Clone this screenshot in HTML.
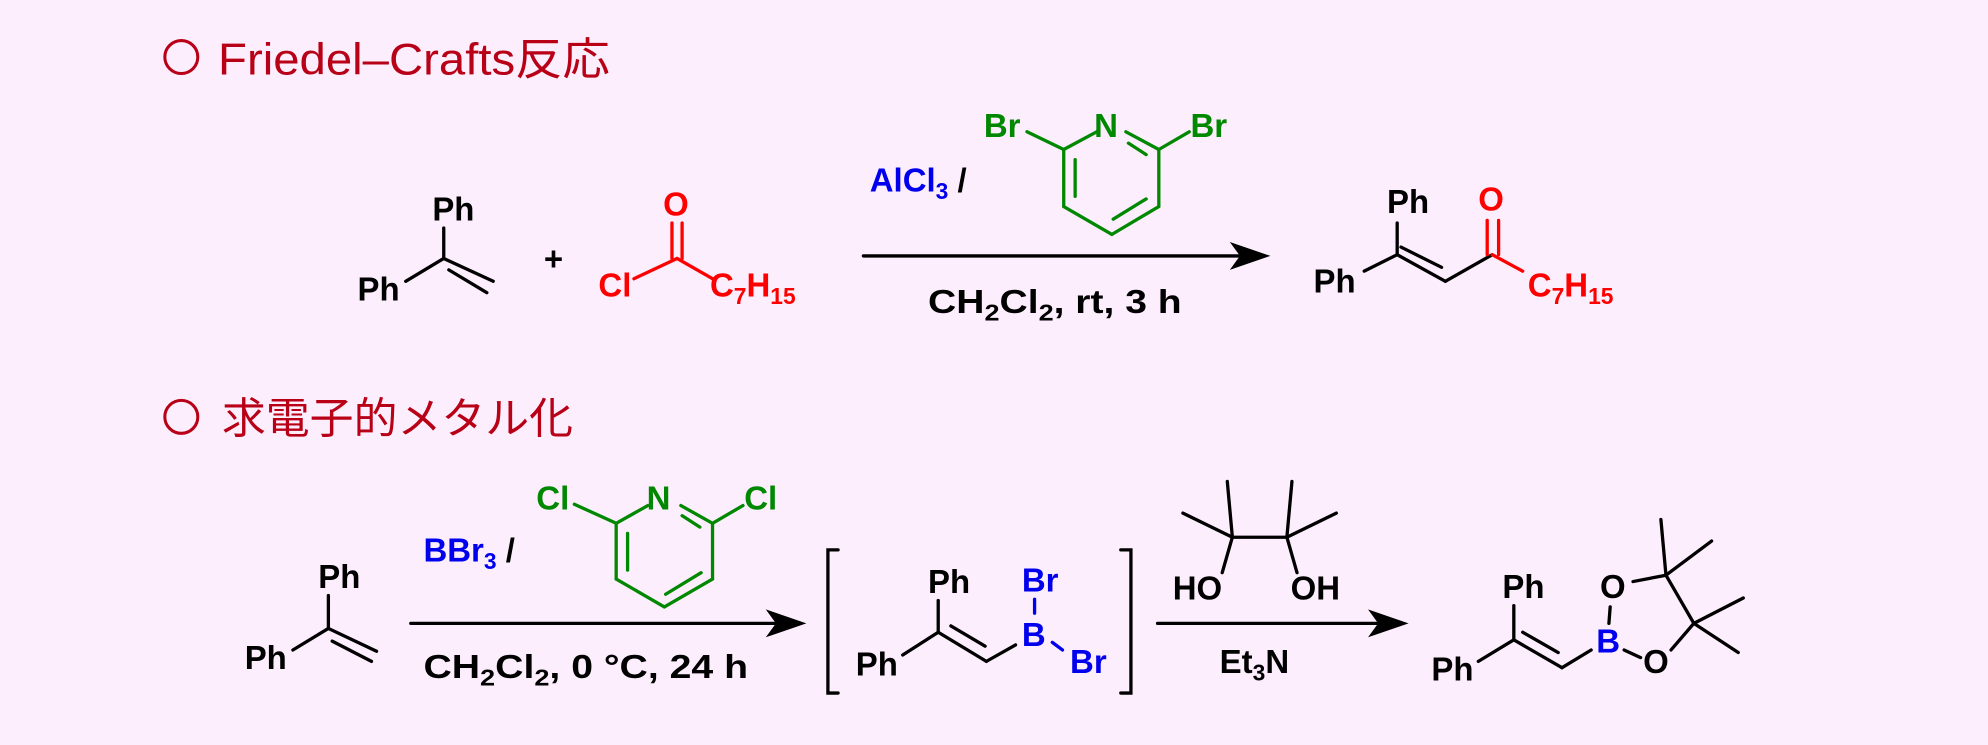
<!DOCTYPE html>
<html><head><meta charset="utf-8"><style>
html,body{margin:0;padding:0;background:#fdeefd;}
svg{display:block}
text{font-family:"Liberation Sans","Noto Sans CJK JP",sans-serif;}
.b{font-weight:bold;font-size:26px;}
</style></head><body>
<svg width="1988" height="745" viewBox="0 0 1568 588" preserveAspectRatio="none" xmlns="http://www.w3.org/2000/svg">
<rect width="1568" height="588" fill="#fdeefd"/>
<!-- titles -->
<g fill="none" stroke="#b80016" stroke-width="2.4"><circle cx="143" cy="45" r="13"/><circle cx="143" cy="329" r="13"/></g>
<text x="172" y="59" font-size="35" fill="#b80016" textLength="309" lengthAdjust="spacingAndGlyphs">Friedel–Crafts反応</text>
<text x="175" y="342" font-size="34" fill="#b80016" textLength="277" lengthAdjust="spacingAndGlyphs">求電子的メタル化</text>

<g stroke="#000" stroke-width="2.6" fill="none" stroke-linecap="round">
<!-- row1 reactant1 -->
<line x1="350" y1="180" x2="350" y2="204"/><line x1="320" y1="222" x2="350" y2="204"/>
<line x1="350" y1="204" x2="389" y2="222"/><line x1="354" y1="213" x2="384" y2="231"/>
<!-- arrow1 -->
<line x1="681" y1="202" x2="985" y2="202"/>
<!-- product1 -->
<line x1="1102" y1="176" x2="1102" y2="201"/><line x1="1076" y1="214" x2="1102" y2="201"/>
<line x1="1102" y1="201" x2="1140" y2="222"/><line x1="1105" y1="195" x2="1137" y2="211"/>
<line x1="1140" y1="222" x2="1177" y2="201"/>
<!-- row2 reactant -->
<line x1="259" y1="470" x2="259" y2="496"/><line x1="231" y1="513" x2="259" y2="496"/>
<line x1="259" y1="496" x2="297" y2="514"/><line x1="262" y1="506" x2="293" y2="522"/>
<!-- arrow2 -->
<line x1="324" y1="492" x2="620" y2="492"/>
<!-- brackets -->
<polyline points="661,434 653,434 653,547 661,547"/>
<polyline points="884,434 892,434 892,547 884,547"/>
<!-- intermediate -->
<line x1="740" y1="474" x2="740" y2="499"/><line x1="712" y1="517" x2="740" y2="499"/>
<line x1="740" y1="499" x2="778" y2="522"/><line x1="750" y1="494" x2="777" y2="510"/>
<line x1="778" y1="522" x2="801" y2="509"/>
<!-- arrow3 -->
<line x1="913" y1="492" x2="1095" y2="492"/>
<!-- pinacol -->
<line x1="972" y1="424" x2="1015" y2="424"/>
<line x1="972" y1="424" x2="968" y2="380"/><line x1="972" y1="424" x2="933" y2="405"/><line x1="972" y1="424" x2="964" y2="452"/>
<line x1="1015" y1="424" x2="1019" y2="380"/><line x1="1015" y1="424" x2="1054" y2="405"/><line x1="1015" y1="424" x2="1023" y2="452"/>
<!-- product2 -->
<line x1="1194" y1="478" x2="1194" y2="505"/><line x1="1166" y1="522" x2="1194" y2="505"/>
<line x1="1194" y1="505" x2="1232" y2="527"/><line x1="1201" y1="499" x2="1229" y2="515"/>
<line x1="1232" y1="527" x2="1255" y2="513"/>
<line x1="1270" y1="479" x2="1269" y2="492"/><line x1="1281" y1="513" x2="1294" y2="519"/>
<line x1="1288" y1="459" x2="1314" y2="454"/><line x1="1314" y1="454" x2="1336" y2="492"/><line x1="1336" y1="492" x2="1318" y2="513"/>
<line x1="1314" y1="454" x2="1310" y2="410"/><line x1="1314" y1="454" x2="1350" y2="427"/>
<line x1="1336" y1="492" x2="1375" y2="472"/><line x1="1336" y1="492" x2="1371" y2="515"/>
</g>
<!-- arrowheads -->
<polygon points="1002,202 970,191 978,202 970,213" fill="#000"/>
<polygon points="636,492 604,481 612,492 604,503" fill="#000"/>
<polygon points="1111,492 1079,481 1087,492 1079,503" fill="#000"/>
<!-- intermediate B-Br bonds blue -->
<g stroke="#0000ee" stroke-width="2.6" stroke-linecap="round">
<line x1="816" y1="473" x2="816" y2="484"/><line x1="830" y1="507" x2="838" y2="513"/>
</g>
<!-- acyl chloride red -->
<g stroke="#ff0000" stroke-width="2.6" fill="none" stroke-linecap="round">
<line x1="530" y1="176" x2="530" y2="204"/><line x1="538" y1="176" x2="538" y2="204"/>
<line x1="500" y1="220" x2="534" y2="204"/><line x1="534" y1="204" x2="562" y2="220"/>
<line x1="1173" y1="174" x2="1173" y2="201"/><line x1="1182" y1="174" x2="1182" y2="201"/>
<line x1="1177" y1="201" x2="1201" y2="214"/>
</g>
<!-- pyridines -->
<g stroke="#008800" stroke-width="2.6" fill="none" stroke-linecap="round">
<line x1="888" y1="104" x2="914" y2="118"/><line x1="914" y1="118" x2="914" y2="163"/><line x1="914" y1="163" x2="877" y2="185"/><line x1="877" y1="185" x2="839" y2="163"/><line x1="839" y1="163" x2="839" y2="118"/><line x1="839" y1="118" x2="865" y2="104"/>
<line x1="848" y1="126" x2="848" y2="155"/><line x1="904" y1="157" x2="878" y2="173"/><line x1="890" y1="113" x2="904" y2="122"/>
<line x1="810" y1="104" x2="839" y2="118"/><line x1="914" y1="118" x2="938" y2="104"/>
<line x1="537" y1="399" x2="562" y2="413"/><line x1="562" y1="413" x2="562" y2="457"/><line x1="562" y1="457" x2="524" y2="479"/><line x1="524" y1="479" x2="486" y2="457"/><line x1="486" y1="457" x2="486" y2="413"/><line x1="486" y1="413" x2="511" y2="399"/>
<line x1="495" y1="421" x2="495" y2="450"/><line x1="553" y1="452" x2="525" y2="469"/><line x1="538" y1="407" x2="552" y2="416"/>
<line x1="453" y1="398" x2="486" y2="413"/><line x1="562" y1="413" x2="586" y2="399"/>
</g>
<!-- labels -->
<g fill="#000">
<text x="341" y="174" class="b">Ph</text><text x="282" y="237" class="b">Ph</text>
<text x="429" y="213" class="b" font-size="24">+</text>
<text x="1094" y="168" class="b">Ph</text><text x="1036" y="231" class="b">Ph</text>
<text x="732" y="247" class="b" textLength="200" lengthAdjust="spacingAndGlyphs">CH<tspan font-size="18" dy="6">2</tspan><tspan dy="-6">Cl</tspan><tspan font-size="18" dy="6">2</tspan><tspan dy="-6">, rt, 3 h</tspan></text>
<text x="251" y="464" class="b">Ph</text><text x="193" y="528" class="b">Ph</text>
<text x="334" y="535" class="b" textLength="256" lengthAdjust="spacingAndGlyphs">CH<tspan font-size="18" dy="6">2</tspan><tspan dy="-6">Cl</tspan><tspan font-size="18" dy="6">2</tspan><tspan dy="-6">, 0 °C, 24 h</tspan></text>
<text x="732" y="468" class="b">Ph</text><text x="675" y="533" class="b">Ph</text>
<text x="925" y="473" class="b">HO</text><text x="1018" y="473" class="b">OH</text>
<text x="962" y="531" class="b">Et<tspan font-size="18" dy="6">3</tspan><tspan dy="-6">N</tspan></text>
<text x="1185" y="472" class="b">Ph</text><text x="1129" y="537" class="b">Ph</text>
<text x="1262" y="472" class="b">O</text><text x="1296" y="531" class="b">O</text>
</g>
<text x="686" y="151" class="b" fill="#0000ee">AlCl<tspan font-size="18" dy="6">3</tspan><tspan dy="-6" fill="#000"> /</tspan></text>
<text x="334" y="443" class="b" fill="#0000ee">BBr<tspan font-size="18" dy="6">3</tspan><tspan dy="-6" fill="#000"> /</tspan></text>
<text x="806" y="510" class="b" fill="#0000ee">B</text>
<text x="806" y="467" class="b" fill="#0000ee">Br</text>
<text x="844" y="531" class="b" fill="#0000ee">Br</text>
<text x="1259" y="515" class="b" fill="#0000ee">B</text>
<g fill="#ff0000">
<text x="523" y="170" class="b">O</text>
<text x="472" y="234" class="b">Cl</text>
<text x="560" y="234" class="b">C<tspan font-size="18" dy="6">7</tspan><tspan dy="-6">H</tspan><tspan font-size="18" dy="6">15</tspan></text>
<text x="1166" y="166" class="b">O</text>
<text x="1205" y="234" class="b">C<tspan font-size="18" dy="6">7</tspan><tspan dy="-6">H</tspan><tspan font-size="18" dy="6">15</tspan></text>
</g>
<g fill="#008800">
<text x="776" y="108" class="b">Br</text><text x="863" y="108" class="b">N</text><text x="939" y="108" class="b">Br</text>
<text x="423" y="402" class="b">Cl</text><text x="510" y="402" class="b">N</text><text x="587" y="402" class="b">Cl</text>
</g>
</svg>
</body></html>
